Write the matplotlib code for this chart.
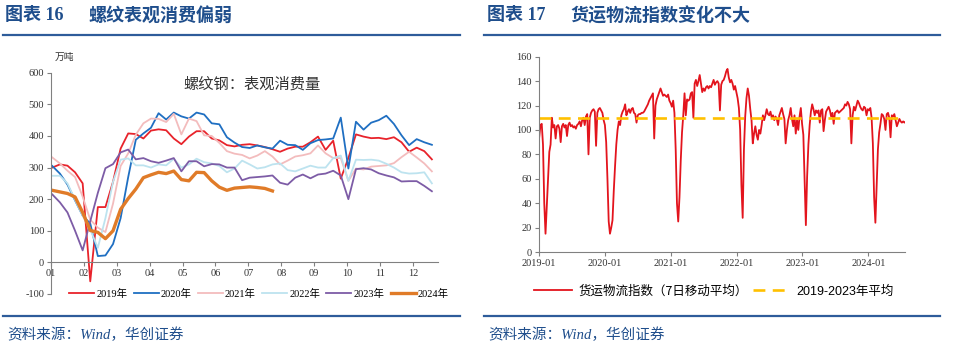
import numpy as np
import pandas as pd
import matplotlib
matplotlib.use('Agg')
import matplotlib.pyplot as plt
import matplotlib.dates as mdates
from matplotlib.lines import Line2D

plt.rcParams['font.family'] = ['Liberation Serif', 'Noto Sans CJK SC']
plt.rcParams['axes.unicode_minus'] = False

# ---- 图表16：螺纹钢表观消费量（万吨，按周） ----
month_labels = ['01', '02', '03', '04', '05', '06', '07', '08', '09', '10', '11', '12']
years = ['2019年', '2020年', '2021年', '2022年', '2023年', '2024年']

rebar_2019 = [300, 310, 306, 285, 250, -60, 175, 175, 255, 360, 408, 406, 392, 417, 421, 418, 392,
              374, 398, 415, 415, 392, 386, 371, 367, 372, 374, 370, 365, 358, 350, 360, 366, 366,
              380, 398, 356, 385, 265, 330, 405, 398, 393, 394, 390, 396, 380, 350, 363, 352, 326]
rebar_2020 = [305, 281, 246, 196, 148, 123, 20, 22, 58, 140, 270, 388, 408, 426, 472, 452, 474,
              462, 455, 474, 468, 440, 437, 396, 379, 365, 362, 370, 364, 360, 385, 372, 371, 356,
              377, 387, 389, 392, 458, 297, 445, 420, 442, 450, 464, 438, 402, 371, 390, 380, 372]
rebar_2021 = [332, 313, 290, 270, 208, 135, 110, 96, 186, 305, 345, 404, 440, 455, 454, 444, 470,
              405, 455, 447, 402, 400, 378, 352, 344, 340, 329, 338, 352, 335, 310, 322, 335, 339,
              345, 370, 345, 330, 330, 258, 297, 294, 303, 305, 307, 314, 333, 350, 332, 313, 288]
rebar_2022 = [274, 274, 250, 198, 148, 104, 46, 140, 255, 325, 329, 307, 307, 300, 310, 307, 328,
              300, 310, 328, 317, 313, 305, 285, 297, 322, 310, 297, 301, 310, 313, 292, 288, 297,
              306, 300, 300, 330, 338, 258, 325, 324, 325, 322, 312, 300, 285, 281, 282, 285, 250]
rebar_2023 = [215, 190, 158, 100, 38, 130, 220, 298, 311, 348, 357, 326, 330, 320, 315, 322, 330,
              288, 320, 320, 304, 311, 310, 300, 300, 260, 268, 270, 272, 275, 252, 246, 268, 278,
              266, 278, 281, 290, 275, 200, 295, 298, 294, 282, 275, 269, 256, 257, 257, 242, 225]
rebar_2024 = [228, 223, 218, 207, 158, 101, 95, 75, 100, 168, 202, 232, 268, 277, 285, 281, 289,
              262, 258, 285, 284, 258, 238, 228, 235, 237, 239, 237, 234, 226]

# ---- 图表17：货运物流指数（7日移动平均，按周） ----
freight_2019 = [94, 104, 105, 88, 40, 15, 38, 62, 82, 88, 110, 102, 104, 93, 103, 104, 101, 90, 103,
                105, 102, 104, 95, 104, 106, 103, 104, 102, 103, 101, 104, 105, 107, 103, 108, 110,
                104, 111, 113, 80, 110, 114, 116, 117, 115, 87, 114, 117, 118, 116, 114, 108]
freight_2020 = [104, 90, 60, 25, 15, 20, 26, 50, 70, 88, 100, 107, 104, 112, 115, 117, 121, 112, 115,
                117, 114, 117, 118, 114, 113, 106, 112, 113, 113, 114, 114, 115, 117, 119, 121, 124,
                126, 128, 130, 93, 120, 125, 128, 131, 134, 131, 128, 129, 128, 127, 129, 124]
freight_2021 = [122, 119, 124, 114, 84, 40, 25, 45, 75, 98, 112, 130, 112, 125, 124, 125, 130, 131,
                110, 138, 141, 136, 140, 145, 138, 131, 134, 132, 135, 136, 134, 136, 135, 138, 141,
                137, 139, 140, 138, 116, 137, 140, 141, 144, 148, 150, 143, 139, 141, 138, 133, 136, 131]
freight_2022 = [126, 118, 100, 55, 28, 84, 111, 126, 134, 128, 117, 108, 89, 97, 103, 96, 92, 100,
                97, 104, 112, 108, 112, 117, 113, 112, 115, 110, 112, 108, 111, 109, 104, 112, 115,
                118, 113, 109, 89, 100, 108, 112, 118, 109, 103, 112, 97, 108, 100, 111, 118, 105]
freight_2023 = [96, 60, 22, 62, 88, 104, 115, 121, 117, 112, 116, 114, 116, 106, 116, 117, 99, 108,
                115, 117, 119, 116, 111, 114, 105, 114, 115, 116, 114, 115, 116, 117, 118, 121, 120,
                123, 121, 117, 89, 112, 119, 116, 120, 124, 122, 119, 117, 116, 119, 118, 112, 117]
freight_2024 = [116, 118, 110, 89, 45, 24, 55, 84, 98, 105, 113, 112, 109, 100, 113, 114, 110, 94,
                112, 111, 113, 108, 103, 106, 109, 107, 106, 107, 106, 107]
avg_2019_2023 = 110

title_blue = '#1f4e8c'
rule_blue = '#2e5c9a'
grey = '#808080'

fig = plt.figure(figsize=(9.6, 3.54), dpi=100)

# ---------- 左图 ----------
ax1 = fig.add_axes([0.0531, 0.1695, 0.403, 0.625])
rebar = [rebar_2019, rebar_2020, rebar_2021, rebar_2022, rebar_2023, rebar_2024]
colors = ['#e8232b', '#1f6fc2', '#f3bcbd', '#bde3ef', '#7d5ca6', '#e07b28']
widths = [1.3, 1.3, 1.3, 1.3, 1.3, 2.4]
for name, vals, c, w in zip(years, rebar, colors, widths):
    x = 0.04 + np.arange(len(vals)) * 12 / 52
    ax1.plot(x, vals, color=c, lw=w, label=name, solid_joinstyle='round')

ax1.set_xlim(0, 11.76)
ax1.set_ylim(-100, 600)
ax1.set_yticks(range(-100, 601, 100))
ax1.set_xticks(range(12))
ax1.set_xticklabels(month_labels)
for s in ['top', 'right']:
    ax1.spines[s].set_visible(False)
ax1.spines['bottom'].set_position(('data', 0))
for s in ['left', 'bottom']:
    ax1.spines[s].set_color(grey)
    ax1.spines[s].set_linewidth(0.8)
ax1.tick_params(axis='both', labelsize=7.5, colors='#333333', length=3, width=0.8, pad=2)
ax1.tick_params(axis='both', color=grey)
ax1.text(0.52, 0.95, '螺纹钢：表观消费量', transform=ax1.transAxes, ha='center', va='center',
         fontsize=11, color='#333333', family=['Noto Sans CJK SC'])
fig.text(55 / 960, 1 - 57 / 354, '万吨', fontsize=7, color='#333333',
         family=['Noto Sans CJK SC'], va='center')
ax1.legend(loc='center', bbox_to_anchor=(259 / 960, 1 - 294 / 354), bbox_transform=fig.transFigure,
           ncol=6, frameon=False, fontsize=7.5, handlelength=2.4, handletextpad=0.2,
           columnspacing=0.6, borderpad=0)

# ---------- 右图 ----------
ax2 = fig.add_axes([0.5611, 0.2881, 0.3816, 0.5517])
freight = [freight_2019, freight_2020, freight_2021, freight_2022, freight_2023, freight_2024]
dates = []
vals = []
for yr, v in zip(range(2019, 2025), freight):
    dates.extend(pd.date_range(f'{yr}-01-01', periods=len(v), freq='W-FRI'))
    vals.extend(v)
ax2.plot(dates, vals, color='#e3141d', lw=1.3, label='货运物流指数（7日移动平均）')
ax2.axhline(avg_2019_2023, color='#ffc000', lw=1.9, dashes=(4.5, 2.8), label='2019-2023年平均')
ax2.set_xlim(pd.Timestamp('2019-01-01'), pd.Timestamp('2024-07-22'))
ax2.set_ylim(0, 160)
ax2.set_yticks(range(0, 161, 20))
ax2.xaxis.set_major_locator(mdates.YearLocator(month=1, day=1))
ax2.xaxis.set_major_formatter(mdates.DateFormatter('%Y-%m'))
for s in ['top', 'right']:
    ax2.spines[s].set_visible(False)
for s in ['left', 'bottom']:
    ax2.spines[s].set_color(grey)
    ax2.spines[s].set_linewidth(0.8)
ax2.tick_params(axis='both', labelsize=7.5, colors='#333333', length=3, width=0.8, pad=2)
ax2.tick_params(axis='both', color=grey)
leg2 = ax2.legend(loc='center', bbox_to_anchor=(714 / 960, 1 - 291 / 354),
                  bbox_transform=fig.transFigure, ncol=2, frameon=False, fontsize=9,
                  handlelength=3.0, handletextpad=0.5, columnspacing=0.4, borderpad=0)
leg2.get_texts()[0].set_fontfamily(['Noto Sans CJK SC'])
leg2.get_texts()[1].set_fontfamily(['Liberation Sans', 'Noto Sans CJK SC'])

# ---------- 标题、分隔线、来源 ----------
for x0, title in [(5, '图表 16'), (487, '图表 17')]:
    fig.text(x0 / 960, 1 - 16 / 354, title, fontsize=13, fontweight='bold', color=title_blue,
             va='center', family=['Liberation Serif', 'Noto Sans CJK SC'])
fig.text(88 / 960, 1 - 16 / 354, '螺纹表观消费偏弱', fontsize=13, fontweight='bold',
         color=title_blue, va='center', family=['Noto Sans CJK SC'])
fig.text(570 / 960, 1 - 16 / 354, '货运物流指数变化不大', fontsize=13, fontweight='bold',
         color=title_blue, va='center', family=['Noto Sans CJK SC'])

for xa, xb in [(3, 460), (484, 940)]:
    for yy in [35, 315.5]:
        fig.add_artist(Line2D([xa / 960, xb / 960], [1 - yy / 354, 1 - yy / 354],
                              color=rule_blue, lw=1.6, transform=fig.transFigure))
    fig.text((xa + 4) / 960, 1 - 335 / 354, '资料来源：Wind，华创证券', fontsize=10.5,
             style='italic', color=title_blue, va='center',
             family=['Liberation Serif', 'Noto Sans CJK SC'])

fig.savefig('out.png', dpi=100)
